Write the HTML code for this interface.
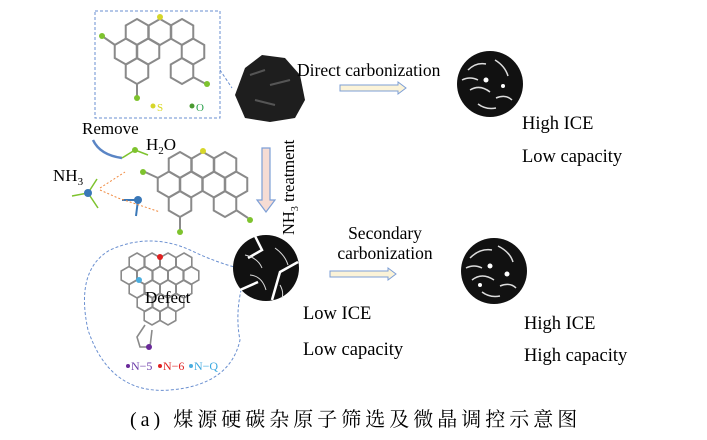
<!DOCTYPE html><html><head><style>body{margin:0;background:#fff}svg{display:block}text{font-family:"Liberation Serif","Noto Serif CJK SC",serif}</style></head><body>
<svg width="707" height="440" viewBox="0 0 707 440">
<defs>
<polygon id="h" points="0,-13 11.26,-6.5 11.26,6.5 0,13 -11.26,6.5 -11.26,-6.5" fill="none" stroke="#8a8a8a" stroke-width="2"/>
<polygon id="hs" points="0,-9 7.8,-4.5 7.8,4.5 0,9 -7.8,4.5 -7.8,-4.5" fill="none" stroke="#8a8a8a" stroke-width="1.6"/>
</defs>
<rect x="95" y="11" width="125" height="107" fill="none" stroke="#6a8fd0" stroke-dasharray="3,2"/>
<path d="M220 70 L232 88" stroke="#6a8fd0" stroke-dasharray="3,2" fill="none"/>
<g>
<use href="#h" x="137" y="32"/><use href="#h" x="160" y="32"/><use href="#h" x="182" y="32"/>
<use href="#h" x="126" y="51.5"/><use href="#h" x="148" y="51.5"/><use href="#h" x="193" y="51.5"/>
<use href="#h" x="137" y="71"/><use href="#h" x="182" y="71"/>
</g>
<path d="M115 45 L102 36 M137 84 L137 97 M193 77 L206 84" stroke="#8a8a8a" stroke-width="2"/>
<circle cx="160" cy="17" r="3" fill="#d6d62a"/><circle cx="102" cy="36" r="3" fill="#7ec32e"/><circle cx="137" cy="98" r="3" fill="#7ec32e"/><circle cx="207" cy="84" r="3" fill="#7ec32e"/>
<circle cx="153" cy="106" r="2.5" fill="#d6d62a"/><text x="157" y="111" font-size="11" fill="#d8d820">S</text>
<circle cx="192" cy="106" r="2.5" fill="#4a9a30"/><text x="196" y="111" font-size="11" fill="#2aa04a">O</text>
<path d="M235 95 L245 68 L262 55 L285 58 L300 75 L305 100 L295 118 L270 122 L245 118 Z" fill="#1e1e1e"/>
<path d="M250 75 L265 70 M270 85 L290 80 M255 100 L275 105" stroke="#555" stroke-width="2"/>
<text x="82" y="134" font-size="17">Remove</text>
<path d="M93 140 Q100 155 122 158" stroke="#5a85c5" stroke-width="2.5" fill="none"/>
<text x="146" y="150" font-size="17">H<tspan font-size="11" dy="4">2</tspan><tspan dy="-4">O</tspan></text>
<text x="53" y="181" font-size="17">NH<tspan font-size="11" dy="4">3</tspan></text>
<path d="M72 196 L88 193 L97 179 M88 193 L98 208" stroke="#7ec32e" stroke-width="1.5" fill="none"/>
<circle cx="88" cy="193" r="4" fill="#3a78b8"/>
<path d="M122 200 L138 200 L136 216" stroke="#3a78b8" stroke-width="2" fill="none"/>
<circle cx="138" cy="200" r="4" fill="#3a78b8"/>
<path d="M100 188 L125 172 M100 190 L118 198 L160 212" stroke="#f08a40" stroke-dasharray="2,2" fill="none"/>
<path d="M122 158 L135 150 L148 155" stroke="#7ec32e" stroke-width="1.5" fill="none"/>
<circle cx="135" cy="150" r="3" fill="#7ec32e"/>
<g>
<use href="#h" x="180" y="165"/><use href="#h" x="203" y="165"/><use href="#h" x="225" y="165"/>
<use href="#h" x="169" y="184.5"/><use href="#h" x="191" y="184.5"/><use href="#h" x="214" y="184.5"/><use href="#h" x="236" y="184.5"/>
<use href="#h" x="180" y="204"/><use href="#h" x="225" y="204"/>
</g>
<path d="M158 178 L145 172 M180 217 L180 230 M236 210 L248 218" stroke="#8a8a8a" stroke-width="2"/>
<circle cx="203" cy="151" r="3" fill="#d6d62a"/><circle cx="143" cy="172" r="3" fill="#7ec32e"/><circle cx="180" cy="232" r="3" fill="#7ec32e"/><circle cx="250" cy="220" r="3" fill="#7ec32e"/>
<path d="M262 148 L270 148 L270 200 L275 200 L266 212 L257 200 L262 200 Z" fill="#f6dcd4" stroke="#7d9fd6" stroke-width="1.2"/>
<text transform="translate(294 235) rotate(-90)" font-size="16.5">NH<tspan font-size="10" dy="4">3</tspan><tspan dy="-4"> treatment</tspan></text>
<path d="M238 268 Q215 262 190 250 Q150 232 110 250 Q75 270 88 330 Q110 395 170 390 Q230 385 240 340 Q234 310 245 275" fill="none" stroke="#6a8fd0" stroke-dasharray="3,2"/>
<g>
<use href="#hs" x="137" y="262"/><use href="#hs" x="152" y="262"/><use href="#hs" x="168" y="262"/><use href="#hs" x="184" y="262"/>
<use href="#hs" x="129" y="275.5"/><use href="#hs" x="145" y="275.5"/><use href="#hs" x="160" y="275.5"/><use href="#hs" x="176" y="275.5"/><use href="#hs" x="191" y="275.5"/>
<use href="#hs" x="137" y="289"/><use href="#hs" x="152" y="289"/><use href="#hs" x="168" y="289"/><use href="#hs" x="184" y="289"/>
<use href="#hs" x="145" y="302.5"/><use href="#hs" x="160" y="302.5"/><use href="#hs" x="176" y="302.5"/>
<use href="#hs" x="152" y="316"/><use href="#hs" x="168" y="316"/>
</g>
<path d="M145 325 L137 337 L140 347 L150 347 L152 330" fill="none" stroke="#8a8a8a" stroke-width="1.6"/>
<circle cx="160" cy="257" r="3" fill="#e02020"/><circle cx="139" cy="280" r="3" fill="#4aaee0"/><circle cx="149" cy="347" r="3" fill="#6a2a9a"/>
<text x="145" y="303" font-size="17">Defect</text>
<circle cx="128" cy="366" r="2" fill="#6a2a9a"/><text x="131" y="370" font-size="12" fill="#6a3aa8">N−5</text>
<circle cx="160" cy="366" r="2" fill="#e02020"/><text x="163" y="370" font-size="12" fill="#e02020">N−6</text>
<circle cx="191" cy="366" r="2" fill="#4aaee0"/><text x="194" y="370" font-size="12" fill="#3aa8e0">N−Q</text>
<circle cx="266" cy="268" r="33" fill="#111"/>
<path d="M255 236 L262 250 L248 258 M298 262 L280 272 L272 300 M240 290 L258 282" stroke="#fff" stroke-width="2.5" fill="none"/>
<path d="M245 255 Q258 258 262 268 M275 248 Q285 255 288 265 M250 275 Q262 276 266 290 M280 285 Q284 292 282 298" stroke="#ddd" stroke-width="1" fill="none"/>
<text x="297" y="76" font-size="17.5">Direct carbonization</text>
<path d="M340 85 L398 85 L398 82 L406 88 L398 94 L398 91 L340 91 Z" fill="#fbf3d8" stroke="#7d9fd6"/>
<circle cx="490" cy="84" r="33" fill="#111"/>
<path d="M468 70 Q476 62 486 64 M495 60 Q505 66 508 76 M470 90 Q480 84 490 92 M496 98 Q506 94 512 100 M478 104 Q486 110 496 108 M462 80 Q470 76 478 80" stroke="#ddd" stroke-width="1.5" fill="none"/>
<circle cx="486" cy="80" r="2.5" fill="#fff"/><circle cx="503" cy="86" r="2" fill="#fff"/>
<text x="522" y="129" font-size="18.5">High ICE</text>
<text x="522" y="162" font-size="18.5">Low capacity</text>
<text x="385" y="239" font-size="17.5" text-anchor="middle">Secondary</text>
<text x="385" y="259" font-size="17.5" text-anchor="middle">carbonization</text>
<path d="M330 271 L388 271 L388 268 L396 274 L388 280 L388 277 L330 277 Z" fill="#fbf3d8" stroke="#7d9fd6"/>
<text x="303" y="319" font-size="18.5">Low ICE</text>
<text x="303" y="355" font-size="18.5">Low capacity</text>
<circle cx="494" cy="271" r="33" fill="#111"/>
<path d="M470 258 Q480 248 492 250 M498 246 Q510 252 513 262 M472 280 Q482 272 494 280 M500 286 Q510 282 516 288 M482 292 Q490 298 500 296 M466 268 Q474 264 482 268" stroke="#ddd" stroke-width="1.5" fill="none"/>
<circle cx="490" cy="266" r="2.5" fill="#fff"/><circle cx="507" cy="274" r="2.5" fill="#fff"/><circle cx="480" cy="285" r="2" fill="#fff"/>
<text x="524" y="329" font-size="18.5">High ICE</text>
<text x="524" y="361" font-size="18.5">High capacity</text>
<text x="130" y="426" font-size="20" letter-spacing="4">(a) 煤源硬碳杂原子筛选及微晶调控示意图</text>
</svg>
</body></html>
